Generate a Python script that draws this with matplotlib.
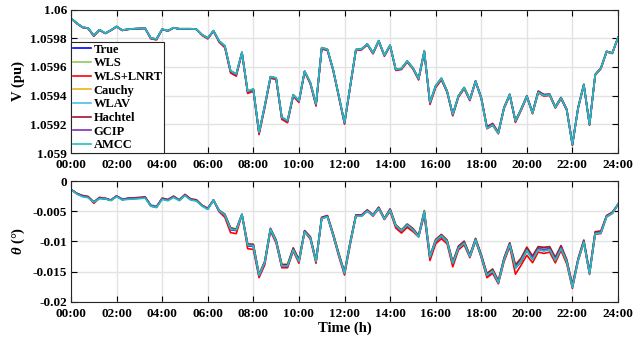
import numpy as np
import matplotlib
matplotlib.use("Agg")
import matplotlib.pyplot as plt
from matplotlib.ticker import FuncFormatter

plt.rcParams['font.family'] = ['Liberation Serif', 'DejaVu Serif']
plt.rcParams['font.weight'] = 'bold'
plt.rcParams['mathtext.fontset'] = 'custom'
plt.rcParams['mathtext.it'] = 'Liberation Serif:italic:bold'
plt.rcParams['mathtext.rm'] = 'Liberation Serif:bold'


def vals(s):
    return np.array(s.split(), dtype=float)


# time axis, 15 min steps over one day
hours = np.arange(97) * 0.25
tick_hours = list(range(0, 25, 2))
tick_labels = ['%02d:00' % h for h in tick_hours]

methods = ['True', 'WLS', 'WLS+LNRT', 'Cauchy', 'WLAV', 'Hachtel', 'GCIP', 'AMCC']
colors = ['#0000FF', '#92C85A', '#FF0000', '#EDB120', '#4DBEEE', '#A2142F', '#7E2FBE', '#1FBFBF']

# voltage magnitude of the true state (pu)
v_true = vals("""
1.059939 1.059904 1.059876 1.059869 1.059818 1.059858 1.059834 1.059855 1.059881 1.059855 1.059862 1.059865
1.059867 1.059869 1.059800 1.059793 1.059862 1.059851 1.059872 1.059865 1.059865 1.059865 1.059862 1.059823
1.059800 1.059851 1.059777 1.059742 1.059568 1.059545 1.059700 1.059425 1.059441 1.059140 1.059325 1.059527
1.059518 1.059244 1.059221 1.059402 1.059360 1.059568 1.059487 1.059337 1.059730 1.059719 1.059580 1.059395
1.059209 1.059464 1.059719 1.059723 1.059758 1.059696 1.059781 1.059679 1.059749 1.059580 1.059587 1.059638
1.059591 1.059517 1.059707 1.059348 1.059464 1.059517 1.059429 1.059267 1.059395 1.059453 1.059371 1.059499
1.059383 1.059175 1.059198 1.059140 1.059314 1.059406 1.059221 1.059302 1.059395 1.059279 1.059425 1.059402
1.059406 1.059318 1.059383 1.059302 1.059059 1.059314 1.059476 1.059198 1.059545 1.059591 1.059707 1.059696
1.059804
""")

# estimator deviations from the true voltage (1e-6 pu)
v_dev = {
    'True': vals(' '.join(['0'] * 97)),
    'WLS': vals("""
0 0 1 1 1 1 1 0 0 1 1 1 1 1 1 1 0 1 1 1 1 1 1 1
1 1 3 3 4 4 1 4 4 3 4 4 4 4 4 3 3 1 3 3 3 3 3 3
3 3 2 2 1 1 1 1 1 2 2 2 2 1 4 4 4 3 3 3 3 3 3 2
2 3 3 2 2 2 3 2 2 2 3 2 2 2 2 2 2 2 1 2 1 1 1 1 0"""),
    'WLS+LNRT': vals("""
0 0 0 -2 -5 -1 -1 0 0 -1 0 0 0 0 -4 -5 0 0 0 0 0 0 0 -4
-5 -2 -5 -8 -10 -10 -3 -10 -10 -12 -10 -6 -6 -10 -10 -6 -8 -3 -6 -10 -5 -5 -5 -6
-8 -6 -4 -4 -4 -5 -4 -5 -4 -5 -5 -5 -5 -8 -5 -10 -8 -8 -6 -8 -6 -6 -6 -5
-5 -6 -5 -6 -5 -5 -8 -5 -5 -6 -5 -6 -5 -5 -6 -5 -7 -4 -4 -5 -4 -4 -3 -3 0"""),
    'Cauchy': vals("""
0 1 1 1 1 1 1 1 1 1 1 1 1 1 1 1 1 1 1 1 1 1 1 1
2 2 4 5 6 6 2 6 6 5 6 6 6 6 6 5 5 2 4 5 5 5 4 5
4 4 3 3 2 2 2 2 2 3 3 3 3 2 6 6 6 5 5 5 5 5 5 4
4 5 5 5 5 5 6 5 5 5 6 5 4 5 5 5 3 4 3 3 2 2 1 1 0"""),
    'WLAV': vals("""
0 1 1 1 1 1 1 1 1 1 1 1 1 1 1 1 1 1 1 1 1 1 1 1
2 2 4 5 6 6 2 5 5 5 5 5 5 5 5 4 4 2 3 4 4 4 3 4
3 3 2 2 2 2 2 2 2 2 3 3 2 1 5 5 5 4 4 4 4 4 4 3
2 3 3 3 4 4 5 4 4 4 5 4 3 4 4 4 2 3 2 2 2 2 1 1 0"""),
    'Hachtel': vals("""
0 0 0 0 0 0 0 0 0 0 0 0 0 0 0 0 0 0 0 0 0 0 0 0
0 0 1 2 2 2 0 2 2 2 2 2 2 2 2 2 2 1 1 2 2 2 1 2
1 1 1 1 1 1 1 1 1 1 1 1 1 1 2 2 2 2 2 2 2 2 3 3
4 8 8 5 3 2 2 3 2 3 6 5 4 3 3 3 2 3 3 2 2 2 1 1 0"""),
    'GCIP': vals("""
0 0 0 0 0 0 0 0 0 0 0 0 0 0 0 0 0 0 0 0 0 0 0 0
0 0 1 1 1 1 0 1 1 1 1 1 1 1 1 1 1 0 1 1 1 1 0 1
1 1 0 0 0 0 0 0 0 1 1 1 1 0 1 1 1 1 1 1 1 1 1 1
1 1 1 1 1 1 1 1 1 1 1 1 1 1 1 1 1 1 0 1 0 0 0 0 0"""),
    'AMCC': vals("""
0 1 1 1 1 1 1 1 1 1 1 1 1 1 1 1 1 1 1 1 1 1 1 1
2 2 4 4 5 5 2 5 5 4 5 5 5 5 5 4 4 2 3 4 4 4 3 4
3 3 2 2 2 2 2 2 2 2 2 2 2 1 3 4 3 3 3 3 2 2 2 1
0 -4 -3 -3 0 1 1 0 0 -2 -2 -2 0 0 0 0 0 0 0 0 0 0 0 0 0"""),
}

# voltage angle of the true state (deg)
th_true = vals("""
-0.00139 -0.00206 -0.00250 -0.00267 -0.00350 -0.00283 -0.00294 -0.00317 -0.00250 -0.00306 -0.00294 -0.00289
-0.00283 -0.00272 -0.00406 -0.00428 -0.00294 -0.00317 -0.00261 -0.00317 -0.00233 -0.00306 -0.00322 -0.00406
-0.00461 -0.00317 -0.00500 -0.00572 -0.00806 -0.00822 -0.00556 -0.01072 -0.01083 -0.01572 -0.01361 -0.00806
-0.01000 -0.01417 -0.01417 -0.01139 -0.01333 -0.00833 -0.00944 -0.01333 -0.00611 -0.00583 -0.00889 -0.01222
-0.01528 -0.01028 -0.00572 -0.00572 -0.00489 -0.00572 -0.00444 -0.00628 -0.00483 -0.00750 -0.00833 -0.00739
-0.00806 -0.00917 -0.00528 -0.01278 -0.01000 -0.00917 -0.01000 -0.01372 -0.01111 -0.01028 -0.01250 -0.00972
-0.01250 -0.01572 -0.01500 -0.01683 -0.01306 -0.01056 -0.01444 -0.01333 -0.01150 -0.01294 -0.01128 -0.01150
-0.01128 -0.01306 -0.01111 -0.01333 -0.01750 -0.01306 -0.01000 -0.01528 -0.00861 -0.00850 -0.00583 -0.00528
-0.00389
""")

# estimator deviations from the true angle (1e-4 deg)
th_dev = {
    'True': vals(' '.join(['0'] * 97)),
    'WLS': vals("""
0 0 0 0 0 0 0 0 0 0 0 0 0 0 0 0 0 0 0 0 0 0 0 0
0 0 1 1 2 2 0 2 2 1 2 1 1 2 2 1 1 0 1 1 0 0 1 1
1 1 0 0 0 0 0 0 1 1 1 1 1 0 2 2 2 2 1 2 2 2 1 1
2 2 2 2 2 2 3 3 3 3 2 3 2 2 2 2 1 1 1 1 1 1 0 0 0"""),
    'WLS+LNRT': vals("""
0 0 0 0 -2 0 0 0 0 0 0 0 0 0 -1 -1 0 0 0 0 0 0 0 0
0 0 -1 -3 -5 -5 0 -5 -5 -3 -3 -2 -3 -2 -2 -2 -3 -1 -2 -3 -1 -1 -2 -3
-3 -3 -1 -1 -1 -1 -2 -1 -2 -3 -3 -3 -3 -1 -4 -4 -4 -4 -4 -5 -3 -3 -2 -2
-2 -3 -3 -2 -3 -3 -10 -6 -8 -6 -5 -5 -5 -5 -4 -4 -3 -2 -2 -2 -2 -2 -1 -1 0"""),
    'Cauchy': vals("""
0 0 1 1 0 1 1 0 0 0 1 1 1 1 0 0 1 1 1 0 1 1 1 0
1 0 1 2 3 3 0 3 4 3 3 2 2 4 4 3 3 1 2 2 1 1 2 2
2 2 1 1 1 1 1 1 2 2 2 3 2 1 4 4 3 3 2 3 3 3 2 2
3 4 4 3 3 3 6 6 6 5 4 5 4 4 4 3 3 2 2 2 2 2 1 1 0"""),
    'WLAV': vals("""
0 0 0 0 0 1 0 0 0 1 0 0 0 0 1 1 0 0 0 0 0 0 0 0
0 0 2 2 2 2 1 2 3 2 2 2 2 3 3 2 2 1 1 1 0 0 1 1
1 1 0 0 0 1 0 0 1 2 2 3 1 0 3 4 2 2 1 2 2 2 1 1
2 2 2 1 2 3 4 5 4 3 2 3 2 2 2 1 1 1 1 1 1 1 0 0 0"""),
    'Hachtel': vals("""
0 0 1 1 0 1 1 0 0 0 1 1 1 1 0 0 1 1 1 0 1 1 1 0
1 0 1 2 3 2 0 3 3 2 3 2 2 3 3 3 3 1 2 2 1 1 2 2
2 2 1 1 1 1 1 1 2 2 2 2 2 1 3 3 3 3 2 3 3 3 2 2
3 4 4 3 3 3 5 5 5 5 4 5 4 4 4 3 3 2 2 2 2 2 1 1 0"""),
    'GCIP': vals("""
0 0 0 0 0 0 0 0 0 0 0 0 0 0 0 0 0 0 0 0 0 0 0 0
0 0 0 0 1 1 0 1 1 0 1 0 0 0 0 0 1 0 0 0 0 0 0 0
0 0 0 0 0 1 0 0 1 1 1 1 0 0 1 1 1 1 0 1 1 1 0 0
1 1 1 0 1 1 1 1 1 1 1 1 1 1 1 1 0 0 0 0 0 0 0 0 0"""),
    'AMCC': vals("""
0 -1 -1 -1 0 -1 0 -1 -1 -1 -1 -1 -1 -1 -1 -1 -1 -1 -1 -1 -1 -1 -1 -1
-1 0 1 1 1 1 0 1 1 1 1 1 0 1 1 0 0 -1 0 0 -1 -1 0 0
0 0 -1 -1 -1 0 -1 0 0 1 1 1 0 -1 2 2 1 1 0 1 0 0 0 0
0 1 1 0 0 0 0 1 0 -1 -1 -1 -1 -1 -1 0 -1 -1 -1 -1 -1 -1 -1 -1 0"""),
}

fig = plt.figure(figsize=(6.33, 3.43), dpi=100)
ax1 = fig.add_axes([0.1122, 0.5539, 0.8641, 0.4184])
ax2 = fig.add_axes([0.1122, 0.1204, 0.8641, 0.3519])

for m, c in zip(methods, colors):
    ax1.plot(hours, v_true + v_dev[m] * 1e-6, color=c, lw=1.2, label=m)
    ax2.plot(hours, th_true + th_dev[m] * 1e-4, color=c, lw=1.2, label=m)

fmt = FuncFormatter(lambda v, p: '%g' % round(v, 6))
for ax in (ax1, ax2):
    ax.set_xlim(0, 24)
    ax.set_xticks(tick_hours)
    ax.set_xticklabels(tick_labels)
    ax.grid(True, color='#e3e3e3', lw=1.0)
    ax.set_axisbelow(True)
    ax.tick_params(direction='in', top=True, right=True, labelsize=9.5,
                   length=4, width=0.8, pad=3)
    ax.tick_params(axis='x', pad=4.5)
    ax.yaxis.set_major_formatter(fmt)
    for s in ax.spines.values():
        s.set_color('#262626')
        s.set_linewidth(0.8)

ax1.set_ylim(1.059, 1.06)
ax1.set_yticks([1.059, 1.0592, 1.0594, 1.0596, 1.0598, 1.06])
ax1.set_ylabel('V (pu)', fontsize=10.5, fontweight='bold', labelpad=4)

ax2.set_ylim(-0.02, 0)
ax2.set_yticks([-0.02, -0.015, -0.01, -0.005, 0])
ax2.set_ylabel(r'$\theta$ (°)', fontsize=10.5, fontweight='bold', labelpad=4)
ax2.set_xlabel('Time (h)', fontsize=10.5, fontweight='bold', labelpad=1)

leg = ax1.legend(loc='lower left', bbox_to_anchor=(0, 0), borderaxespad=0,
                 fancybox=False, framealpha=1, edgecolor='#262626',
                 prop={'weight': 'bold', 'size': 9}, handlelength=1.45,
                 handletextpad=0.2, labelspacing=0.13, borderpad=0.15)
leg.get_frame().set_linewidth(0.8)

plt.savefig('out.png', dpi=100)
